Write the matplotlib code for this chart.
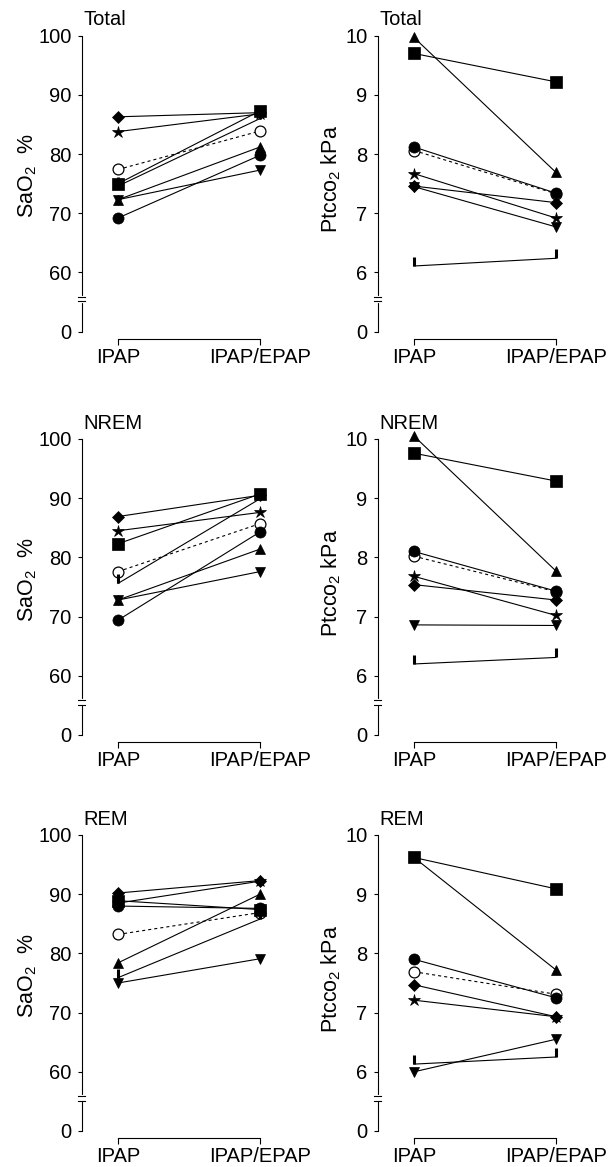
import matplotlib
matplotlib.use('Agg')
import matplotlib.pyplot as plt
from matplotlib.path import Path
from matplotlib.transforms import blended_transform_factory
from matplotlib import font_manager

# ---------------- data ----------------
conditions = ['IPAP', 'IPAP/EPAP']
panel_titles = ['Total', 'NREM', 'REM']

# subject order: mean(open circle), bar, star, inv-triangle, triangle, circle, diamond, square
subjects = ['mean', 'bar', 'star', 'invtri', 'tri', 'circle', 'diamond', 'square']

sao2_total_ipap = [77.4, 74.6, 83.8, 72.3, 72.3, 69.2, 86.3, 75.0]
sao2_total_epap = [83.9, 86.0, 86.8, 77.3, 81.2, 79.8, 87.0, 87.3]
sao2_nrem_ipap = [77.6, 75.6, 84.5, 72.8, 72.8, 69.4, 86.9, 82.3]
sao2_nrem_epap = [85.7, 89.9, 87.6, 77.6, 81.4, 84.3, 90.5, 90.7]
sao2_rem_ipap = [83.2, 75.9, 88.5, 75.0, 78.4, 88.0, 90.2, 88.9]
sao2_rem_epap = [86.9, 85.8, 92.2, 79.1, 90.0, 87.6, 92.3, 87.4]

ptc_total_ipap = [8.06, 6.11, 7.67, 7.45, 9.97, 8.12, 7.46, 9.70]
ptc_total_epap = [7.33, 6.24, 6.92, 6.77, 7.69, 7.34, 7.18, 9.22]
ptc_nrem_ipap = [8.02, 6.20, 7.68, 6.86, 10.05, 8.10, 7.54, 9.76]
ptc_nrem_epap = [7.42, 6.31, 7.02, 6.85, 7.77, 7.43, 7.28, 9.29]
ptc_rem_ipap = [7.69, 6.13, 7.21, 6.00, 9.62, 7.90, 7.47, 9.62]
ptc_rem_epap = [7.31, 6.25, 6.93, 6.55, 7.72, 7.25, 6.93, 9.09]

sao2_ticks = [0, 60, 70, 80, 90, 100]
ptc_ticks = [0, 6, 7, 8, 9, 10]

# ---------------- styling ----------------
def pick_font():
    for f in ['Liberation Sans Narrow', 'Liberation Sans', 'DejaVu Sans']:
        try:
            font_manager.findfont(f, fallback_to_default=False)
            return f
        except Exception:
            pass
    return 'DejaVu Sans'

FONT = pick_font()
NARROW = 'Narrow' in FONT
FS = 17.5 if NARROW else 14.5
FS_LABEL = 18.5 if NARROW else 15.5
plt.rcParams['font.family'] = [FONT, 'DejaVu Sans']
plt.rcParams['mathtext.fontset'] = 'custom'
plt.rcParams['mathtext.rm'] = FONT
plt.rcParams['mathtext.default'] = 'regular'
plt.rcParams['lines.scale_dashes'] = False

bar_marker = Path([(0, 0), (0, 1)], [Path.MOVETO, Path.LINETO])

styles = {
    'mean':    dict(marker='o', ms=7.8, mfc='white', mec='black', mew=0.9, ls=(0, (2.2, 2.2))),
    'bar':     dict(marker=bar_marker, ms=13, mfc='black', mec='black', mew=2.2, ls='-'),
    'star':    dict(marker='*', ms=9, mfc='black', mec='black', mew=0.5, ls='-'),
    'invtri':  dict(marker='v', ms=7.8, mfc='black', mec='black', mew=0.5, ls='-'),
    'tri':     dict(marker='^', ms=7.8, mfc='black', mec='black', mew=0.5, ls='-'),
    'circle':  dict(marker='o', ms=8, mfc='black', mec='black', mew=0.5, ls='-'),
    'diamond': dict(marker='D', ms=5.8, mfc='black', mec='black', mew=0.5, ls='-'),
    'square':  dict(marker='s', ms=8, mfc='black', mec='black', mew=0.5, ls='-'),
}

FIG_W, FIG_H = 610, 1167
fig = plt.figure(figsize=(FIG_W / 100, FIG_H / 100), dpi=100)

col_spine_x = [81.5, 377.5]
row_zero_y = [331.7, 735.0, 1131.0]
X_PX_PER_UNIT = 142.0
Y_PX_PER_10 = 59.2          # pixels per 10 % (left) or per 1 kPa (right)
XLIM = (-0.257, 1.2)

panels = [
    [(sao2_total_ipap, sao2_total_epap), (ptc_total_ipap, ptc_total_epap)],
    [(sao2_nrem_ipap, sao2_nrem_epap), (ptc_nrem_ipap, ptc_nrem_epap)],
    [(sao2_rem_ipap, sao2_rem_epap), (ptc_rem_ipap, ptc_rem_epap)],
]

LW = 0.8
for r in range(3):
    for c in range(2):
        ipap, epap = panels[r][c]
        if c == 0:
            ticks = sao2_ticks
            unit = 10.0
            ylabel = 'SaO$_2$  %'
            label_x, label_y = -0.205, 0.51
        else:
            ticks = ptc_ticks
            unit = 1.0
            ylabel = 'Ptcco$_2$ kPa'
            label_x, label_y = -0.168, 0.50
        zero_pos = ticks[1] - (ticks[2] - ticks[1])     # 0 drawn one step below the first tick
        top = ticks[-1] + 0.15 * unit
        ylim = (zero_pos, top)
        w_px = (XLIM[1] - XLIM[0]) * X_PX_PER_UNIT
        h_px = (ylim[1] - ylim[0]) / unit * Y_PX_PER_10
        ax = fig.add_axes([col_spine_x[c] / FIG_W, 1 - row_zero_y[r] / FIG_H,
                           w_px / FIG_W, h_px / FIG_H])
        ax.set_xlim(*XLIM)
        ax.set_ylim(*ylim)

        xs = [0, 1]
        for i, s in enumerate(subjects):
            st = styles[s]
            ax.plot(xs, [ipap[i], epap[i]], color='black', lw=LW, ls=st['ls'],
                    zorder=2, clip_on=False)
            ax.plot(xs, [ipap[i], epap[i]], ls='none', marker=st['marker'], ms=st['ms'],
                    mfc=st['mfc'], mec=st['mec'], mew=st['mew'], zorder=3 + i * 0.01,
                    clip_on=False)

        # axes styling
        for sp in ['top', 'right']:
            ax.spines[sp].set_visible(False)
        ax.spines['left'].set_linewidth(LW)
        ax.spines['bottom'].set_linewidth(LW)
        ax.spines['left'].set_bounds(zero_pos, ticks[-1])
        ax.spines['bottom'].set_bounds(0, 1)
        ax.spines['bottom'].set_position(('outward', 5.3))

        tick_pos = [zero_pos] + ticks[1:]
        ax.set_yticks(tick_pos)
        ax.set_yticklabels([str(t) for t in ticks])
        ax.set_xticks(xs)
        ax.set_xticklabels(conditions)
        ax.tick_params(axis='y', direction='out', length=2.6, width=LW, pad=4.6,
                       labelsize=FS)
        ax.tick_params(axis='x', direction='out', length=4.3, width=LW, pad=2.0,
                       labelsize=FS)

        # axis break marks
        brk = zero_pos + 0.55 * unit
        half = 0.035 * unit
        tr = blended_transform_factory(ax.transAxes, ax.transData)
        ax.plot([0, 0], [brk - half + 0.01 * unit, brk + half - 0.01 * unit],
                color='white', lw=3, transform=tr, clip_on=False, zorder=5)
        for yy in (brk - half, brk + half):
            ax.plot([-0.016, 0.016], [yy, yy], color='black', lw=LW, transform=tr,
                    clip_on=False, zorder=6)

        ax.set_ylabel(ylabel, fontsize=FS_LABEL)
        ax.yaxis.set_label_coords(label_x, label_y)

        ax.annotate(panel_titles[r], xy=(0, ticks[-1]), xycoords=tr,
                    xytext=(1.5, 4.5), textcoords='offset points',
                    ha='left', va='bottom', fontsize=FS)

fig.savefig('out.png', dpi=100)
